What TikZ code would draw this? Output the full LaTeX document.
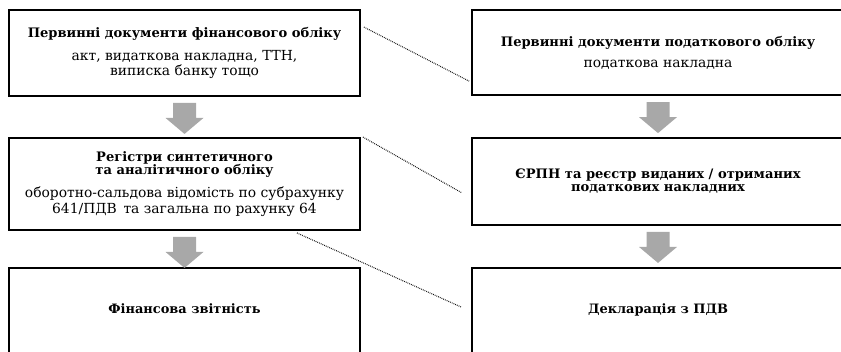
\documentclass[tikz,border=0pt]{standalone}
\usepackage{fontspec}
\setmainfont{DejaVu Serif}
\usepackage{tikz}
\usetikzlibrary{positioning}
\definecolor{arrowgray}{gray}{0.66}
\definecolor{dotgray}{gray}{0.05}

\newcommand{\hd}[1]{{\fontsize{9.8}{11.8}\selectfont\bfseries #1}}

\begin{document}
\begin{tikzpicture}[x=0.75pt, y=-0.75pt,
	box/.style={draw, line width=1.4pt, fill=white, align=center, inner sep=0pt, font=\fontsize{10.4}{11.8}\selectfont},
	head/.style={font=\fontsize{9.7}{11.8}\selectfont\bfseries},
	link/.style={dotgray, line width=0.8pt, dash pattern=on 0.6pt off 0.8pt},
	downarr/.pic={\fill[arrowgray] (-11.5,0) -- (11.5,0) -- (11.5,15) -- (19,15) -- (0,31) -- (-19,15) -- (-11.5,15) -- cycle;}
]

\def \lw{263.25pt} % left column width
\def \rw{279pt}    % right column width

\useasboundingbox (0,0) rectangle (841,351);
\clip (0,0) rectangle (841,351);

% left column: financial accounting
\node[box, minimum width=\lw, minimum height=64.5pt] (fin1) at (184.5,53) {\hd{Первинні документи фінансового обліку}\\[5.4pt] акт, видаткова накладна, ТТН,\\ виписка банку тощо};
\node[box, minimum width=\lw, minimum height=69pt] (fin2) at (184.5,184) {\hd{Регістри синтетичного}\\[-2pt] \hd{та аналітичного обліку}\\[5.4pt] оборотно-сальдова відомість по субрахунку\\ 641/ПДВ\, та загальна по рахунку 64};
\node[box, head, anchor=north, minimum width=\lw, text height=34.5pt, text depth=60pt] (fin3) at (184.5,267) {Фінансова звітність};

% right column: tax accounting
\node[box, minimum width=\rw, minimum height=64pt] (tax1) at (658,52.5) {\hd{Первинні документи податкового обліку}\\[3.9pt] податкова накладна};
\node[box, minimum width=\rw, minimum height=65.25pt] (tax2) at (658,181.5) {\hd{ЄРПН та реєстр виданих / отриманих}\\[-2pt] \hd{податкових накладних}};
\node[box, head, anchor=north, minimum width=\rw, text height=34.5pt, text depth=60pt] (tax3) at (658,267) {Декларація з ПДВ};

% flow arrows
\pic (arr1) at ([yshift=-4.5pt]fin1.south) {downarr};
\pic (arr2) at ([yshift=-4.5pt]fin2.south) {downarr};
\pic (arr3) at ([yshift=-4.5pt]tax1.south) {downarr};
\pic (arr4) at ([yshift=-4.5pt]tax2.south) {downarr};

% dotted links between the columns
\draw[link] ([shift={(3,18)}]fin1.north east) -- ([shift={(-2,-15)}]tax1.south west);
\draw[link] ([shift={(2,0)}]fin2.north east) -- ([shift={(-9,-33)}]tax2.south west);
\draw[link] ([shift={(-64,2)}]fin2.south east) -- ([shift={(-10,40)}]tax3.north west);

\end{tikzpicture}
\end{document}
